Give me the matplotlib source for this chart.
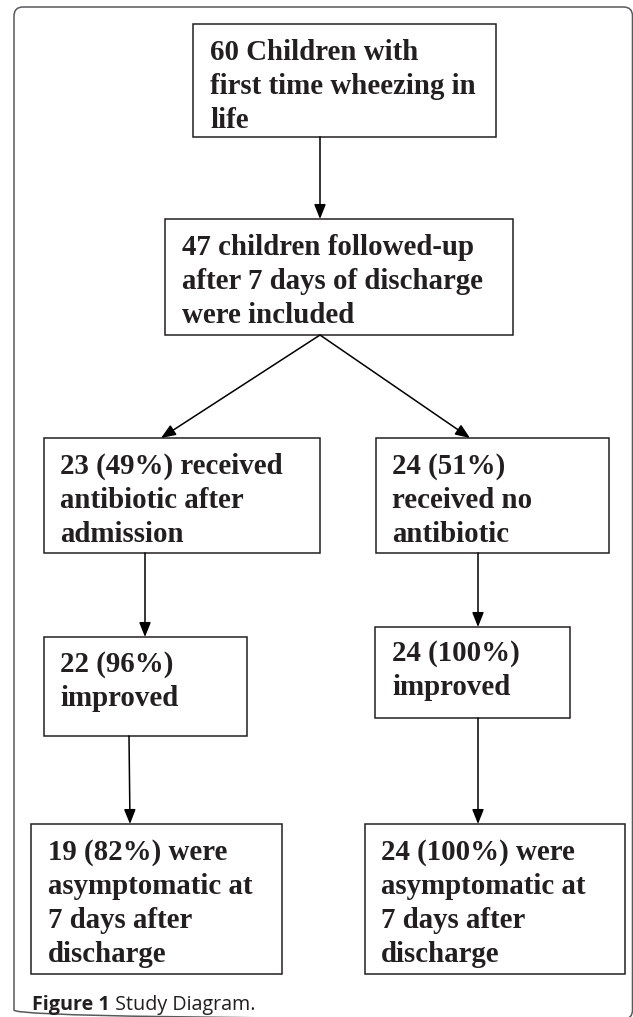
import matplotlib
matplotlib.use("Agg")
import matplotlib.pyplot as plt
from matplotlib.patches import Rectangle, FancyBboxPatch

# ---- content (text of the flow diagram) ----
box1_lines = ["60 Children with", "first time wheezing in", "life"]
box2_lines = ["47 children followed-up", "after 7 days of discharge", "were included"]
box3l_lines = ["23 (49%) received", "antibiotic after", "admission"]
box3r_lines = ["24 (51%)", "received no", "antibiotic"]
box4l_lines = ["22 (96%)", "improved"]
box4r_lines = ["24 (100%)", "improved"]
box5l_lines = ["19 (82%) were", "asymptomatic at", "7 days after", "discharge"]
box5r_lines = ["24 (100%) were", "asymptomatic at", "7 days after", "discharge"]
caption_bold = "Figure 1"
caption_rest = " Study Diagram."

# ---- layout (pixel coordinates, y downward) ----
W, H = 633, 1017
boxes = [
    # (lines, x0, y0, x1, y1, text_x, first_baseline, clip_bottom)
    (box1_lines, 193, 24, 496, 137, 210, 60, None),
    (box2_lines, 165, 219, 513, 335, 182, 255, None),
    (box3l_lines, 44, 438, 320, 553, 60, 474, None),
    (box3r_lines, 376, 438, 609, 553, 392, 474, None),
    (box4l_lines, 44, 637, 247, 736, 60, 672, None),
    (box4r_lines, 375, 627, 570, 718, 392, 661, None),
    (box5l_lines, 31, 824, 282, 974, 48, 860, 964),
    (box5r_lines, 365, 824, 625, 974, 381, 860, 964),
]
line_step = 34
arrows = [
    ((320, 137), (320, 219)),
    ((320, 335), (161, 438)),
    ((320, 335), (470, 438)),
    ((145, 553), (145, 637)),
    ((478, 553), (478, 627)),
    ((129, 736), (130, 824)),
    ((478, 718), (478, 824)),
]

ink = "#231f20"

fig = plt.figure(figsize=(W / 100, H / 100), dpi=100)
ax = fig.add_axes([0, 0, 1, 1])
ax.set_xlim(0, W)
ax.set_ylim(H, 0)
ax.axis("off")

# outer rounded frame
frame = FancyBboxPatch((14, 7), 632.5 - 14, 1019 - 7,
                       boxstyle="round,pad=0,rounding_size=9",
                       fill=False, edgecolor="#58595b", lw=1.1)
ax.add_patch(frame)

for lines, x0, y0, x1, y1, tx, by, clipb in boxes:
    ax.add_patch(Rectangle((x0, y0), x1 - x0, y1 - y0, fill=False,
                           edgecolor=ink, lw=1.1, zorder=3))
    for i, ln in enumerate(lines):
        t = ax.text(tx, by + i * line_step, ln, family="Liberation Serif",
                    fontweight="bold", fontsize=20.8, color=ink,
                    ha="left", va="baseline", zorder=4)
        if clipb is not None:
            clip = Rectangle((x0, y0), x1 - x0, clipb - y0,
                             transform=ax.transData)
            t.set_clip_path(clip)

for (xa, ya), (xb, yb) in arrows:
    ax.annotate("", xy=(xb, yb), xytext=(xa, ya),
                arrowprops=dict(arrowstyle="-|>,head_length=0.55,head_width=0.22",
                                mutation_scale=16, lw=1.1, color="black",
                                shrinkA=0, shrinkB=0), zorder=5)

# caption
fig.canvas.draw()
r = fig.canvas.get_renderer()
cb = ax.text(32, 1010, caption_bold, family="Open Sans", fontweight="bold",
             fontsize=14.2, color=ink, ha="left", va="baseline")
bb = cb.get_window_extent(renderer=r)
x_end = ax.transData.inverted().transform((bb.x1, bb.y0))[0]
ax.text(x_end, 1010, caption_rest, family="Open Sans", fontsize=14.2,
        color=ink, ha="left", va="baseline")

fig.savefig("out.png", dpi=100, facecolor="white")
